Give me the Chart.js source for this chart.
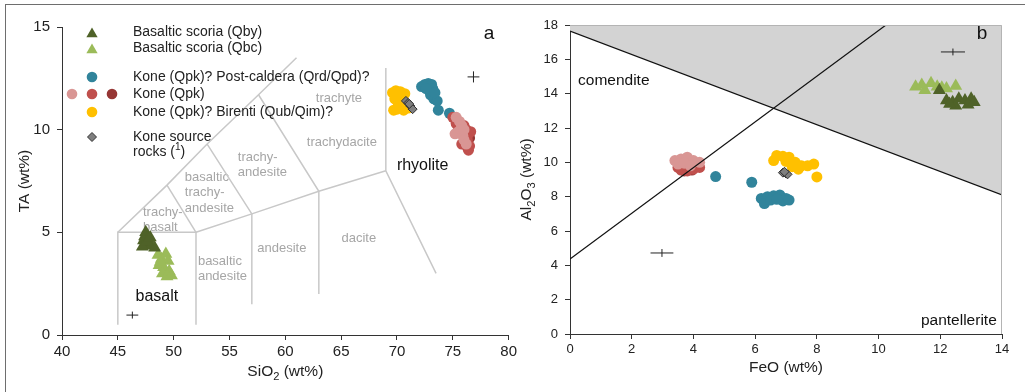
<!DOCTYPE html>
<html>
<head>
<meta charset="utf-8">
<script src="https://cdn.jsdelivr.net/npm/chart.js@4"></script>
<style>
  body { margin: 0; background: #fff; }
  #wrap { position: relative; width: 1025px; height: 392px; overflow: hidden; }
  #frame { position: absolute; left: 5px; top: 4px; width: 1100px; height: 500px;
           border-top: 1px solid #6e6e6e; border-left: 1px solid #6e6e6e; }
  canvas { position: absolute; top: 0; }
  #tas { left: 0; }
  #feo { left: 520px; }
</style>
</head>
<body>
<div id="wrap">
  <div id="frame"></div>
  <canvas id="tas" width="520" height="392"></canvas>
  <canvas id="feo" width="505" height="392"></canvas>
</div>
<script>
const SANS = '"Liberation Sans", Arial, sans-serif';

// colours per unit
const QBY = '#4f6228';
const QBC = '#9bbb59';
const TEAL = '#31849b';
const PINK = '#d99694';
const RED = '#c0504d';
const DARKRED = '#963634';
const YELLOW = '#ffc000';
const SOURCE = '#7f7f7f';

// ---- TAS (SiO2 vs Na2O+K2O) ----
const tasQby = [[47.5,5.0],[47.4,4.8],[47.7,4.7],[47.3,4.6],[47.8,4.5],[47.5,4.4],[48.0,4.35],[47.2,4.3],[48.3,4.25],[47.6,4.55],[47.9,4.75]];
const tasQbc = [[48.6,3.9],[49.3,3.95],[48.9,3.7],[49.5,3.6],[48.7,3.4],[49.1,3.3],[49.6,3.1],[49.0,3.0],[49.4,2.85],[48.8,3.55],[49.8,2.9]];
const tasPost = [[72.2,12.1],[72.5,12.2],[72.8,12.25],[73.1,12.2],[73.2,12.0],[72.9,11.9],[73.0,11.7],[73.3,11.5],[73.6,11.4],[73.7,10.95],[74.7,10.8],[72.6,12.0],[73.4,11.8]];
const tasQpkPink = [[75.3,10.6],[75.6,10.4],[75.8,10.2],[75.5,9.9],[75.9,9.7],[75.2,9.8],[76.0,9.5],[76.2,9.3],[75.7,10.0],[76.0,10.0]];
const tasQpkRed = [[75.0,10.6],[75.3,10.3],[76.0,10.2],[76.2,10.0],[76.4,9.8],[76.3,9.5],[75.8,9.3],[76.5,9.2],[76.4,9.0],[75.5,10.0],[76.6,9.9]];
const tasQpkDark = [[76.5,9.6],[76.3,9.15]];
const tasBirenti = [[69.6,11.8],[69.9,11.9],[70.3,11.85],[70.5,11.6],[69.8,11.5],[70.1,11.3],[70.4,11.2],[70.0,11.0],[69.7,10.95],[70.6,10.95],[71.0,11.05],[70.2,11.6],[70.7,11.75]];
const tasSource = [[70.8,11.4],[71.0,11.3],[71.2,11.15],[71.4,11.0],[71.1,11.25]];
// analytical error crosses: SiO2, TA, ±SiO2, ±TA
const tasErr = [[76.85,12.57,0.53,0.27],[46.3,0.97,0.53,0.17]];

// classification field boundaries
const tasFields = [
  [[45,0.5],[45,5],[52,5],[52,0.5]],
  [[45,5],[49.4,7.3],[53,9.3],[57.6,11.7],[61,13.5]],
  [[49.4,7.3],[52,5]],
  [[52,5],[57,5.9],[63,7],[69,8]],
  [[53,9.3],[57,5.9],[57,1.5]],
  [[57.6,11.7],[63,7],[63,2]],
  [[69,13],[69,8],[73.5,3]]
];
// field names: text lines, SiO2, TA, align
const tasFieldNames = [
  [['trachyte'], 64.8, 11.54, 'center'],
  [['trachydacite'], 65.06, 9.40, 'center'],
  [['trachy-','andesite'], 55.75, 8.67, 'left'],
  [['basaltic','trachy-','andesite'], 51.0, 7.69, 'left'],
  [['trachy-','basalt'], 47.25, 5.99, 'left'],
  [['andesite'], 59.69, 4.24, 'center'],
  [['dacite'], 66.58, 4.72, 'center'],
  [['basaltic','andesite'], 52.17, 3.60, 'left']
];
const tasRockNames = [['basalt', 48.5, 1.85], ['rhyolite', 72.3, 8.23]];

// ---- FeO vs Al2O3 ----
const feoQby = [[11.97,14.2],[12.2,13.6],[12.4,13.5],[12.6,13.7],[12.8,13.6],[13.0,13.7],[12.5,13.3],[12.9,13.35],[12.3,13.4],[13.1,13.5]];
const feoQbc = [[11.2,14.4],[11.5,14.2],[11.7,14.6],[11.9,14.4],[12.05,14.35],[12.5,14.45],[11.4,14.5],[12.2,14.3]];
const feoPost = [[4.72,9.17],[5.89,8.84],[6.2,7.9],[6.4,8.0],[6.6,8.05],[6.8,8.1],[7.0,7.9],[6.3,7.6],[6.5,7.8],[6.9,7.75],[7.1,7.8],[6.7,7.85]];
const feoQpkPink = [[3.4,10.1],[3.6,10.2],[3.8,10.3],[4.0,10.1],[4.2,10.0],[3.5,9.9],[3.7,9.95],[3.9,9.8]];
const feoQpkRed = [[3.5,9.7],[3.8,9.5],[4.0,9.6],[4.2,9.7],[3.6,9.55],[4.1,9.8]];
const feoQpkDark = [[3.7,9.5],[3.95,9.55]];
const feoBirenti = [[6.6,10.1],[6.7,10.4],[6.9,10.35],[7.1,10.3],[7.3,10.0],[7.0,10.05],[7.5,9.8],[7.4,9.6],[7.7,9.8],[7.9,9.9],[8.0,9.15],[7.2,9.75]];
const feoSource = [[6.9,9.4],[7.0,9.35],[7.05,9.3],[6.95,9.45]];
const feoErr = [[12.41,16.43,0.39,0.2],[2.98,4.72,0.37,0.23]];
// Macdonald (1974) boundaries
const comenditeLine = [[0,17.65],[14,8.1]];
const divideLine = [[0,4.37],[10.24,18]];

const pts = arr => arr.map(p => ({ x: p[0], y: p[1] }));

function points(data, color, style, radius, border) {
  return {
    data: pts(data),
    pointStyle: style,
    pointRadius: radius,
    backgroundColor: color,
    borderColor: border || color,
    borderWidth: border ? 1 : 0,
    showLine: false
  };
}

function line(data, color, width) {
  return {
    data: pts(data),
    showLine: true,
    borderColor: color,
    borderWidth: width,
    pointRadius: 0,
    fill: false,
    tension: 0
  };
}

// text with sub/superscripts: parts = [[text, 'n'|'sub'|'sup'], ...]
function drawRich(ctx, parts, x, y, size, align) {
  const small = size * 0.72;
  let w = 0;
  parts.forEach(p => {
    ctx.font = `${p[1] === 'n' ? size : small}px ${SANS}`;
    w += ctx.measureText(p[0]).width;
  });
  let cx = align === 'center' ? x - w / 2 : (align === 'right' ? x - w : x);
  ctx.textAlign = 'left';
  ctx.textBaseline = 'middle';
  parts.forEach(p => {
    const sz = p[1] === 'n' ? size : small;
    ctx.font = `${sz}px ${SANS}`;
    const dy = p[1] === 'sub' ? size * 0.3 : (p[1] === 'sup' ? -size * 0.32 : 0);
    ctx.fillText(p[0], cx, y + dy);
    cx += ctx.measureText(p[0]).width;
  });
}

function drawCrosses(chart, errs) {
  const { ctx, scales: { x, y } } = chart;
  ctx.save();
  ctx.strokeStyle = '#222';
  ctx.lineWidth = 1;
  errs.forEach(e => {
    ctx.beginPath();
    ctx.moveTo(x.getPixelForValue(e[0] - e[2]), y.getPixelForValue(e[1]));
    ctx.lineTo(x.getPixelForValue(e[0] + e[2]), y.getPixelForValue(e[1]));
    ctx.moveTo(x.getPixelForValue(e[0]), y.getPixelForValue(e[1] - e[3]));
    ctx.lineTo(x.getPixelForValue(e[0]), y.getPixelForValue(e[1] + e[3]));
    ctx.stroke();
  });
  ctx.restore();
}

function axisOptions(min, max, step, fontSize, size, horizontal) {
  return {
    type: 'linear',
    min: min, max: max,
    ticks: { stepSize: step, color: '#222', font: { family: SANS, size: fontSize }, padding: horizontal ? 3 : 7 },
    grid: { drawOnChartArea: false, drawTicks: true, tickLength: 5, color: '#333' },
    border: { display: true, color: '#333', width: 1 },
    afterFit: s => { if (horizontal) s.height = size; else s.width = size; }
  };
}

const baseOptions = {
  responsive: false,
  animation: false,
  events: [],
  plugins: { legend: { display: false }, tooltip: { enabled: false }, filler: { drawTime: 'beforeDatasetsDraw' } }
};

// ---------- panel a ----------
const tasLabels = {
  id: 'tasLabels',
  beforeDatasetsDraw(chart) {
    const { ctx, scales: { x, y } } = chart;
    ctx.save();
    ctx.fillStyle = '#a6a6a6';
    ctx.font = `13px ${SANS}`;
    ctx.textBaseline = 'middle';
    tasFieldNames.forEach(f => {
      ctx.textAlign = f[3];
      f[0].forEach((t, i) => ctx.fillText(t, x.getPixelForValue(f[1]), y.getPixelForValue(f[2]) + i * 15.5));
    });
    ctx.fillStyle = '#111';
    ctx.font = `16px ${SANS}`;
    ctx.textAlign = 'center';
    tasRockNames.forEach(r => ctx.fillText(r[0], x.getPixelForValue(r[1]), y.getPixelForValue(r[2])));
    ctx.restore();
  },
  afterDraw(chart) {
    const { ctx, chartArea: a } = chart;
    drawCrosses(chart, tasErr);
    ctx.save();
    ctx.fillStyle = '#222';
    drawRich(ctx, [['SiO', 'n'], ['2', 'sub'], [' (wt%)', 'n']], (a.left + a.right) / 2, 372, 15.5, 'center');
    ctx.translate(25, (a.top + a.bottom) / 2);
    ctx.rotate(-Math.PI / 2);
    drawRich(ctx, [['TA (wt%)', 'n']], 0, 0, 15.5, 'center');
    ctx.restore();

    ctx.save();
    ctx.fillStyle = '#111';
    ctx.font = `19px ${SANS}`;
    ctx.textAlign = 'center';
    ctx.textBaseline = 'middle';
    ctx.fillText('a', 489, 34);

    // legend
    const mark = (px, py, style, r, color, border) => {
      ctx.fillStyle = color;
      ctx.strokeStyle = border || color;
      ctx.lineWidth = border ? 1 : 0.01;
      Chart.helpers.drawPoint(ctx, { pointStyle: style, radius: r, rotation: 0, borderWidth: border ? 1 : 0 }, px, py);
    };
    mark(92, 34, 'triangle', 6.5, QBY);
    mark(92, 50, 'triangle', 6.5, QBC);
    mark(92, 77, 'circle', 5.3, TEAL);
    mark(72, 94, 'circle', 5.3, PINK);
    mark(92, 94, 'circle', 5.3, RED);
    mark(112, 94, 'circle', 5.3, DARKRED);
    mark(92, 112, 'circle', 5.3, YELLOW);
    mark(92, 137, 'rectRot', 4.5, SOURCE, '#333');
    ctx.fillStyle = '#222';
    const lx = 133;
    drawRich(ctx, [['Basaltic scoria (Qby)', 'n']], lx, 32, 14, 'left');
    drawRich(ctx, [['Basaltic scoria (Qbc)', 'n']], lx, 48, 14, 'left');
    drawRich(ctx, [['Kone (Qpk)? Post-caldera (Qrd/Qpd)?', 'n']], lx, 77, 14, 'left');
    drawRich(ctx, [['Kone (Qpk)', 'n']], lx, 94, 14, 'left');
    drawRich(ctx, [['Kone (Qpk)? Birenti (Qub/Qim)?', 'n']], lx, 112, 14, 'left');
    drawRich(ctx, [['Kone source', 'n']], lx, 137, 14, 'left');
    drawRich(ctx, [['rocks (', 'n'], ['1', 'sup'], [')', 'n']], lx, 152, 14, 'left');
    ctx.restore();
  }
};

const tasDatasets = [
  points(tasSource, SOURCE, 'rectRot', 4.5, '#333'),
  points(tasQpkPink, PINK, 'circle', 5.5),
  points(tasQpkRed, RED, 'circle', 5.5),
  points(tasQpkDark, DARKRED, 'circle', 5.5),
  points(tasPost, TEAL, 'circle', 5.5),
  points(tasBirenti, YELLOW, 'circle', 5.5),
  points(tasQby, QBY, 'triangle', 7.5),
  points(tasQbc, QBC, 'triangle', 7.5)
].concat(tasFields.map(f => line(f, '#c8c8c8', 1.5)));

new Chart(document.getElementById('tas'), {
  type: 'scatter',
  data: { datasets: tasDatasets },
  options: Object.assign({}, baseOptions, {
    layout: { padding: { left: 0, right: 11, top: 27, bottom: 0 } },
    scales: {
      x: axisOptions(40, 80, 5, 15, 57, true),
      y: axisOptions(0, 15, 5, 15, 62, false)
    }
  }),
  plugins: [tasLabels]
});

// ---------- panel b ----------
const feoLabels = {
  id: 'feoLabels',
  afterDraw(chart) {
    const { ctx, chartArea: a, scales: { x, y } } = chart;
    drawCrosses(chart, feoErr);
    ctx.save();
    // plot frame top/right
    ctx.strokeStyle = '#b4b4b4';
    ctx.lineWidth = 1;
    ctx.beginPath();
    ctx.moveTo(a.left, a.top + 0.5);
    ctx.lineTo(a.right - 0.5, a.top + 0.5);
    ctx.lineTo(a.right - 0.5, a.bottom);
    ctx.stroke();

    ctx.fillStyle = '#111';
    ctx.font = `15.5px ${SANS}`;
    ctx.textBaseline = 'middle';
    ctx.textAlign = 'left';
    ctx.fillText('comendite', x.getPixelForValue(0.26), y.getPixelForValue(14.76));
    ctx.textAlign = 'right';
    ctx.fillText('pantellerite', x.getPixelForValue(13.83), y.getPixelForValue(0.78));
    ctx.textAlign = 'center';
    ctx.font = `19px ${SANS}`;
    ctx.fillText('b', 462, 34);

    ctx.fillStyle = '#222';
    drawRich(ctx, [['FeO (wt%)', 'n']], (a.left + a.right) / 2, 368, 15.5, 'center');
    ctx.translate(7, (a.top + a.bottom) / 2);
    ctx.rotate(-Math.PI / 2);
    drawRich(ctx, [['Al', 'n'], ['2', 'sub'], ['O', 'n'], ['3', 'sub'], [' (wt%)', 'n']], 0, 0, 15.5, 'center');
    ctx.restore();
  }
};

const feoBoundary = line(comenditeLine, '#111', 1.2);
feoBoundary.fill = 'end';
feoBoundary.backgroundColor = '#d3d3d3';

new Chart(document.getElementById('feo'), {
  type: 'scatter',
  data: {
    datasets: [
      line(divideLine, '#111', 1.2),
      feoBoundary,
      points(feoSource, SOURCE, 'rectRot', 4.5, '#333'),
      points(feoQpkPink, PINK, 'circle', 5.5),
      points(feoQpkRed, RED, 'circle', 5.5),
      points(feoQpkDark, DARKRED, 'circle', 5.5),
      points(feoPost, TEAL, 'circle', 5.5),
      points(feoBirenti, YELLOW, 'circle', 5.5),
      points(feoQby, QBY, 'triangle', 7.5),
      points(feoQbc, QBC, 'triangle', 7.5)
    ]
  },
  options: Object.assign({}, baseOptions, {
    layout: { padding: { left: 0, right: 23, top: 25, bottom: 0 } },
    scales: {
      x: axisOptions(0, 14, 2, 13, 58, true),
      y: axisOptions(0, 18, 2, 13, 50, false)
    }
  }),
  plugins: [feoLabels]
});
</script>
</body>
</html>
